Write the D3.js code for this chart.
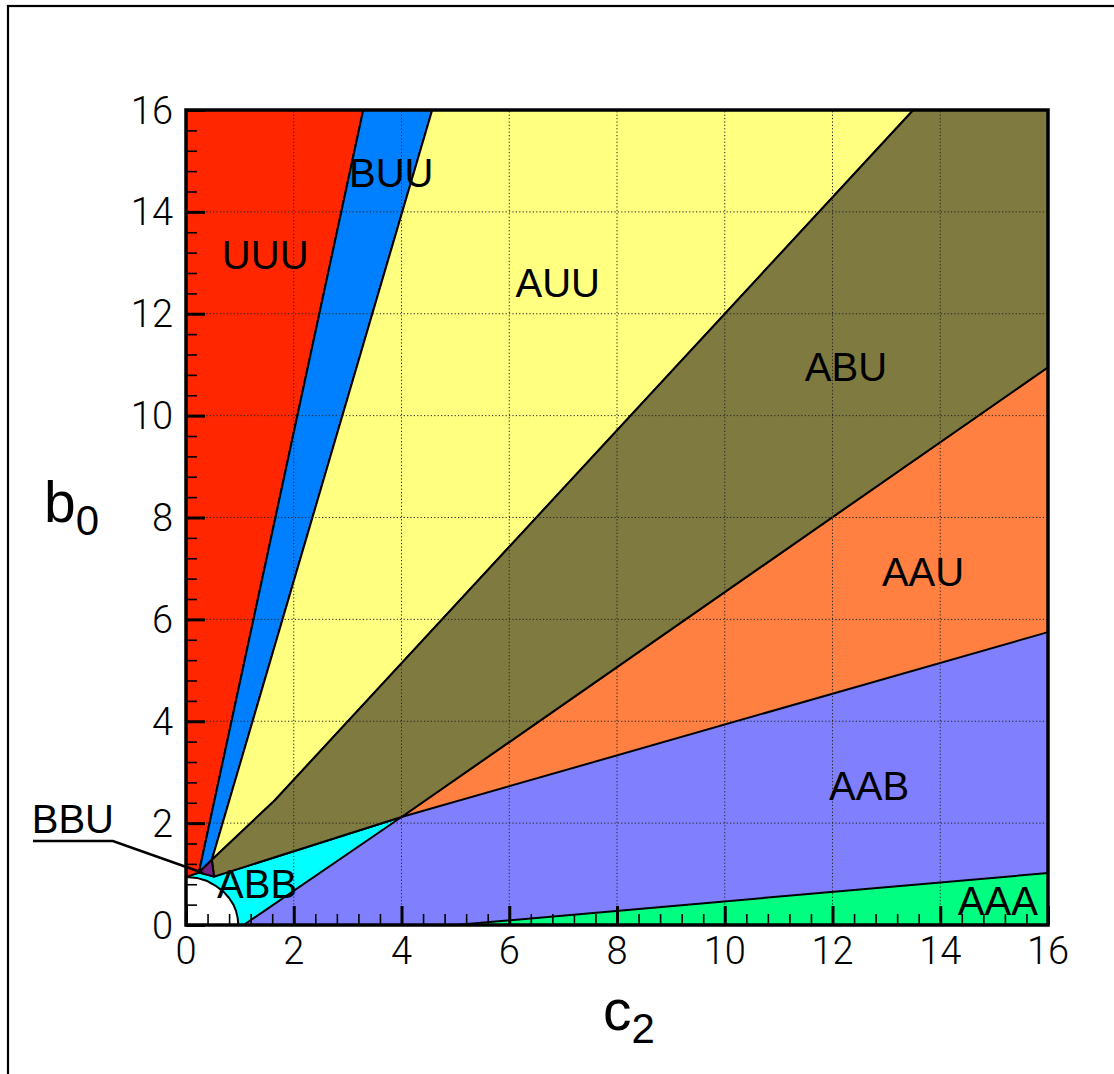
<!DOCTYPE html>
<html>
<head>
<meta charset="utf-8">
<script src="https://cdn.jsdelivr.net/npm/d3@7"></script>
<style>
  html, body { margin: 0; padding: 0; background: #fff; }
  svg { display: block; }
  .tick-label { font-family: "Roboto", "Liberation Sans", sans-serif; font-weight: 300; font-size: 38px; fill: #000; }
  .region-label { font-family: "Liberation Sans", Arial, sans-serif; font-size: 40px; fill: #000; }
  .axis-title { font-family: "Liberation Sans", Arial, sans-serif; font-size: 57px; fill: #000; }
</style>
</head>
<body>
<svg id="chart" width="1114" height="1074"></svg>
<script>
// Axis ticks
const c2Ticks = [0, 2, 4, 6, 8, 10, 12, 14, 16];
const b0Ticks = [0, 2, 4, 6, 8, 10, 12, 14, 16];
const minorStep = 0.4;

// Region boundaries in (c2, b0)
const redBlueEdge     = [[3.29, 16], [0.24, 1.03]];
const blueYellowEdge  = [[4.57, 16], [0.48, 1.28]];
const yellowOliveEdge = [[13.5, 16], [1.65, 2.45], [0.48, 1.28]];
const crossPoint      = [4.0, 2.12];
const steepEdge       = [[1.07, 0], crossPoint, [16, 10.95]];
const shallowEdge     = [[0.52, 0.95], crossPoint, [16, 5.75]];
const greenEdge       = [[5.0, 0], [16, 1.02]];
const whiteArc        = [[0, 0.94], [0.2, 0.925], [0.38, 0.87], [0.55, 0.77], [0.7, 0.65],
                         [0.8, 0.53], [0.88, 0.4], [0.93, 0.27], [0.96, 0.13], [0.97, 0]];
const bbuTriangle     = [[0.24, 1.03], [0.48, 1.28], [0.52, 0.95]];

// Region names, colours and label anchors (centre c2, baseline b0)
const regionNames  = ["UUU", "BUU", "AUU", "ABU", "AAU", "AAB", "AAA", "ABB"];
const regionLabelC2 = [1.47, 3.81, 6.9, 12.25, 13.68, 12.68, 15.07, 1.32];
const regionLabelB0 = [12.88, 14.49, 12.33, 10.68, 6.65, 2.45, 0.2, 0.53];
const colors = {
  UUU: "#ff2600", BUU: "#0080ff", AUU: "#ffff80", ABU: "#7f7a40",
  AAU: "#ff8040", AAB: "#8080ff", AAA: "#00ff80", ABB: "#00ffff",
  BBU: "#762081", none: "#ffffff"
};
// Callout for the small BBU pocket
const bbuLabel = { text: "BBU", c2: -2.1, b0: 1.81 };
const bbuLeader = [[-2.84, 1.65], [-1.357, 1.65], [0.32, 1.02]];

const svg = d3.select("#chart");
const x = d3.scaleLinear().domain([0, 16]).range([186, 1048]);
const y = d3.scaleLinear().domain([0, 16]).range([925, 110]);

// Outer frame
svg.append("rect").attr("x", 8).attr("y", 6).attr("width", 1130).attr("height", 1100)
  .attr("fill", "none").attr("stroke", "#000").attr("stroke-width", 2.2);

const line = d3.line().x(d => x(d[0])).y(d => y(d[1]));
const rev = a => a.slice().reverse();

// Polygons, painted back to front
const polygons = [
  { name: "AAB", pts: [[0, 0], [16, 0], [16, 16], [0, 16]], stroke: false },
  { name: "AAA", pts: [...greenEdge, [16, 0]] },
  { name: "AAU", pts: [crossPoint, steepEdge[2], shallowEdge[2]] },
  { name: "ABB", pts: [[0, 0], steepEdge[0], crossPoint, shallowEdge[0], bbuTriangle[0], [0, 0.94]] },
  { name: "none", pts: [[0, 0], ...whiteArc] },
  { name: "UUU", pts: [[0, 16], ...redBlueEdge, [0, 0.94]] },
  { name: "BUU", pts: [...redBlueEdge, ...rev(blueYellowEdge)] },
  { name: "AUU", pts: [...blueYellowEdge, ...rev(yellowOliveEdge)] },
  { name: "ABU", pts: [...yellowOliveEdge, shallowEdge[0], crossPoint, steepEdge[2], [16, 16]] },
  { name: "BBU", pts: bbuTriangle }
];

const gRegions = svg.append("g");
gRegions.selectAll("path").data(polygons).join("path")
  .attr("d", d => line(d.pts) + "Z")
  .attr("fill", d => colors[d.name])
  .attr("stroke", d => d.stroke === false ? "none" : "#000")
  .attr("stroke-width", 2)
  .attr("stroke-linejoin", "round");

// Dotted grid at the major ticks
const gGrid = svg.append("g").attr("stroke", "#222").attr("stroke-width", 1)
  .attr("stroke-dasharray", "1.2,2.2");
c2Ticks.filter(v => v > 0 && v < 16).forEach(v => {
  gGrid.append("line").attr("x1", x(v)).attr("x2", x(v)).attr("y1", y(0)).attr("y2", y(16));
});
b0Ticks.filter(v => v > 0 && v < 16).forEach(v => {
  gGrid.append("line").attr("y1", y(v)).attr("y2", y(v)).attr("x1", x(0)).attr("x2", x(16));
});

// Axes with inward ticks
const minorVals = d3.range(0, 16 + 1e-9, minorStep).filter(v => Math.abs(v / 2 - Math.round(v / 2)) > 1e-6);
const xAxisMinor = d3.axisTop(x).tickValues(minorVals).tickSize(11).tickFormat("");
const xAxisMajor = d3.axisTop(x).tickValues(c2Ticks).tickSize(19).tickFormat("");
const yAxisMinor = d3.axisRight(y).tickValues(minorVals).tickSize(11).tickFormat("");
const yAxisMajor = d3.axisRight(y).tickValues(b0Ticks).tickSize(19).tickFormat("");

function styleAxis(g, w) {
  g.select(".domain").remove();
  g.selectAll(".tick line").attr("stroke", "#000").attr("stroke-width", w);
}
svg.append("g").attr("transform", `translate(0,${y(0)})`).call(xAxisMinor).call(g => styleAxis(g, 1.6));
svg.append("g").attr("transform", `translate(0,${y(0)})`).call(xAxisMajor).call(g => styleAxis(g, 3));
svg.append("g").attr("transform", `translate(${x(0)},0)`).call(yAxisMinor).call(g => styleAxis(g, 1.6));
svg.append("g").attr("transform", `translate(${x(0)},0)`).call(yAxisMajor).call(g => styleAxis(g, 3));

// Plot border
svg.append("rect").attr("x", x(0)).attr("y", y(16))
  .attr("width", x(16) - x(0)).attr("height", y(0) - y(16))
  .attr("fill", "none").attr("stroke", "#000").attr("stroke-width", 3.5);

// Tick labels
svg.append("g").selectAll("text").data(c2Ticks).join("text")
  .attr("class", "tick-label").attr("text-anchor", "middle")
  .attr("x", d => x(d)).attr("y", 964).text(d => d);
svg.append("g").selectAll("text").data(b0Ticks).join("text")
  .attr("class", "tick-label").attr("text-anchor", "end")
  .attr("x", 173).attr("y", d => y(d) + 13.5).text(d => d);

// Axis titles with subscripts
const xt = svg.append("text").attr("class", "axis-title").attr("x", 603).attr("y", 1030);
xt.append("tspan").text("c");
xt.append("tspan").attr("font-size", 42).attr("dy", 13).text("2");
const yt = svg.append("text").attr("class", "axis-title").attr("x", 44).attr("y", 522);
yt.append("tspan").text("b");
yt.append("tspan").attr("font-size", 42).attr("dy", 13).text("0");

// Region labels
svg.append("g").selectAll("text").data(regionNames).join("text")
  .attr("class", "region-label").attr("text-anchor", "middle")
  .attr("x", (d, i) => x(regionLabelC2[i])).attr("y", (d, i) => y(regionLabelB0[i]))
  .text(d => d);

// BBU callout
svg.append("text").attr("class", "region-label").attr("text-anchor", "middle")
  .attr("x", x(bbuLabel.c2)).attr("y", y(bbuLabel.b0)).text(bbuLabel.text);
svg.append("path").attr("d", line(bbuLeader)).attr("fill", "none")
  .attr("stroke", "#000").attr("stroke-width", 2.5);
</script>
</body>
</html>
